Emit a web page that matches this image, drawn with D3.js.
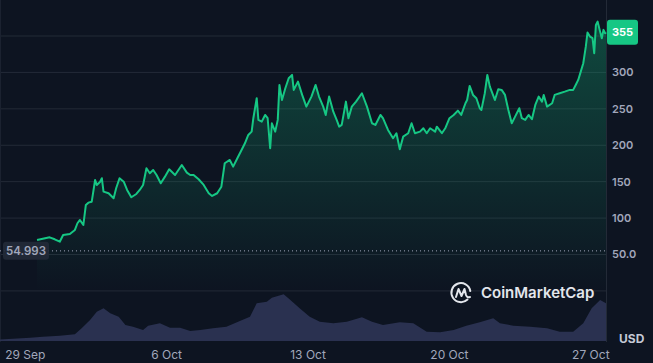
<!DOCTYPE html>
<meta charset="utf-8">
<head>
<script src="https://d3js.org/d3.v7.min.js"></script>
<style>
body { margin: 0; background: #0d1421; }
text { font-family: Inter, "Noto Sans", sans-serif; }
</style>
</head>
<body>
<div id="chart"></div>
<script>
// hours since 27 Sep 18:00, price in USD
var priceHours = [44, 59, 65, 71, 75, 83, 89, 92, 95, 99, 102, 105, 109, 113, 115, 119, 121, 123, 129, 135,
  138, 142, 147, 151, 156, 162, 166, 170, 174, 178, 182, 186, 191, 196, 201, 208, 216, 222, 226, 230,
  236, 242, 248, 252, 258, 263, 267, 273, 277, 282, 287, 291, 295, 299, 301, 305, 307, 311, 315, 318,
  321, 323, 327, 330, 332, 335, 339, 343, 347, 349, 354, 359, 364, 370, 375, 379, 384, 387, 391, 396,
  400, 403, 406, 411, 414, 418, 423, 430, 436, 442, 446, 452, 455, 461, 467, 471, 475, 479, 485, 489,
  493, 499, 503, 507, 511, 517, 519, 525, 529, 534, 539, 544, 548, 553, 555, 558, 562, 566, 570, 572,
  576, 579, 582, 588, 592, 596, 600, 604, 608, 612, 617, 620, 624, 628, 632, 636, 640, 644, 646, 650,
  656, 659, 665, 671, 677, 681, 684, 687, 690, 693, 696, 698, 701, 704, 706, 708, 710, 713, 715, 717,
  719, 720];
var prices = [69.9, 73.6, 70.9, 67.6, 76.8, 78.2, 83.7, 92.9, 97.4, 90.5, 118.0, 121.2, 122.5, 152.3, 145.5, 150.0, 154.7, 136.3, 134.1, 127.2,
  140.9, 154.7, 150.0, 138.6, 128.6, 133.1, 138.6, 145.5, 168.4, 161.5, 166.1, 159.2, 147.8, 156.9, 167.0, 159.2, 172.9, 162.4, 159.2, 159.2,
  153.3, 145.5, 134.1, 130.4, 134.1, 143.1, 175.3, 179.8, 170.6, 182.1, 193.5, 202.7, 214.1, 218.7, 237.1, 264.6, 234.8, 232.4, 241.6, 237.1,
  195.9, 230.2, 218.7, 234.8, 282.8, 262.2, 278.3, 292.0, 296.6, 276.0, 287.4, 269.1, 253.0, 266.8, 282.8, 266.8, 253.0, 241.6, 266.8, 246.1,
  234.8, 225.5, 227.9, 259.9, 237.1, 253.0, 259.9, 271.4, 253.0, 230.2, 227.9, 241.6, 237.1, 221.0, 209.6, 216.5, 194.5, 211.8, 216.5, 230.2,
  216.5, 218.7, 223.3, 216.5, 223.3, 218.7, 225.5, 216.5, 223.3, 237.1, 241.6, 247.5, 241.6, 257.7, 262.2, 281.4, 269.1, 264.6, 250.8, 248.5,
  271.4, 296.6, 280.5, 262.2, 276.9, 276.0, 269.1, 248.5, 230.2, 239.3, 250.8, 237.1, 234.8, 241.6, 235.7, 255.4, 266.8, 259.9, 269.1, 253.0,
  257.7, 269.1, 271.4, 273.6, 276.0, 276.0, 282.8, 289.7, 301.1, 312.6, 335.4, 354.7, 349.2, 347.0, 326.4, 365.2, 369.8, 356.0, 347.0, 358.4,
  353.8, 355.0];

// volume (relative units) at hours since 27 Sep 18:00
var volumeHours = [0, 36, 51, 71, 89, 97, 107, 115, 123, 131, 141, 149, 158, 170, 176, 190, 202, 214, 226, 238,
  253, 269, 285, 297, 305, 317, 323, 337, 345, 356, 368, 380, 396, 412, 430, 442, 455, 475, 491, 507,
  523, 539, 554, 570, 586, 594, 610, 630, 650, 665, 681, 693, 703, 713, 720];
var volumes = [1.5, 3.3, 4.3, 5.3, 6.7, 12.7, 21, 29.3, 32.7, 27.7, 24.3, 16, 14.3, 11, 15.3, 17.7, 13.3, 13.3, 10, 11,
  12.7, 14.3, 20, 24.3, 37.7, 39.3, 43.3, 46.7, 41, 32.7, 24.3, 19.3, 17.7, 19.3, 23.7, 19.3, 16, 18.7, 17.7, 9.3,
  8.7, 11, 15.3, 18.7, 22.7, 17.7, 15.3, 14.3, 12.7, 9.3, 9.3, 17.7, 32.7, 41, 37.7];

var yTicks = [50, 100, 150, 200, 250, 300, 350];
var xTickDates = ["2024-09-29", "2024-10-06", "2024-10-13", "2024-10-20", "2024-10-27"];
var openPrice = 54.993;
var lastPrice = 355;

var W = 653, H = 363;
var start = new Date(2024, 8, 27, 18);
var hourMs = 3600 * 1000;
var toDate = function(h) { return new Date(start.getTime() + h * hourMs); };

var x = d3.scaleTime()
  .domain([start, toDate(720)])
  .range([0, 606]);
var y = d3.scaleLinear()
  .domain([50, 350])
  .range([254.5, 36]);
var yVol = d3.scaleLinear()
  .domain([0, 47])
  .range([341, 294]);

var priceData = priceHours.map(function(h, i) { return { date: toDate(h), value: prices[i] }; });
var volData = volumeHours.map(function(h, i) { return { date: toDate(h), value: volumes[i] }; });

var svg = d3.select("#chart").append("svg")
  .attr("width", W)
  .attr("height", H)
  .style("background", "#0d1421");

var defs = svg.append("defs");
var grad = defs.append("linearGradient")
  .attr("id", "areaGrad")
  .attr("gradientUnits", "userSpaceOnUse")
  .attr("x1", 0).attr("x2", 0)
  .attr("y1", 20).attr("y2", y(0));
grad.append("stop").attr("offset", 0).attr("stop-color", "#16c784").attr("stop-opacity", 0.3);
grad.append("stop").attr("offset", 1).attr("stop-color", "#16c784").attr("stop-opacity", 0);

// grid lines
svg.append("g")
  .selectAll("line")
  .data(yTicks.concat([0]))
  .enter().append("line")
    .attr("x1", 0).attr("x2", 606)
    .attr("y1", function(d) { return y(d); })
    .attr("y2", function(d) { return y(d); })
    .attr("stroke", "#232a37")
    .attr("stroke-width", 1);

// frame lines
svg.append("line").attr("x1", 606.5).attr("x2", 606.5).attr("y1", 0).attr("y2", 342)
  .attr("stroke", "#232a37");
svg.append("line").attr("x1", 0.5).attr("x2", 0.5).attr("y1", 0).attr("y2", 342)
  .attr("stroke", "#1b2230");

// volume
svg.append("path")
  .datum(volData)
  .attr("fill", "#2a3150")
  .attr("d", d3.area()
    .x(function(d) { return x(d.date); })
    .y0(yVol(0))
    .y1(function(d) { return yVol(d.value); }));

// price area + line
svg.append("path")
  .datum(priceData)
  .attr("fill", "url(#areaGrad)")
  .attr("d", d3.area()
    .x(function(d) { return x(d.date); })
    .y0(y(0))
    .y1(function(d) { return y(d.value); }));

svg.append("path")
  .datum(priceData)
  .attr("fill", "none")
  .attr("stroke", "#16c784")
  .attr("stroke-width", 2)
  .attr("stroke-linejoin", "round")
  .attr("d", d3.line()
    .x(function(d) { return x(d.date); })
    .y(function(d) { return y(d.value); }));

// opening price dotted line
svg.append("line")
  .attr("x1", 0).attr("x2", 606)
  .attr("y1", y(openPrice)).attr("y2", y(openPrice))
  .attr("stroke", "#a1a7bb")
  .attr("stroke-width", 1)
  .attr("stroke-dasharray", "1,3");
svg.append("rect")
  .attr("x", 3).attr("y", y(openPrice) - 9)
  .attr("width", 46).attr("height", 18).attr("rx", 3)
  .attr("fill", "#222a38").attr("opacity", 0.9);
svg.append("text")
  .attr("x", 26).attr("y", y(openPrice))
  .attr("dy", "0.35em")
  .attr("text-anchor", "middle")
  .attr("font-size", 11.5)
  .attr("font-weight", 600)
  .attr("fill", "#a1a7bb")
  .text(openPrice);

// y axis labels (the 350 label sits under the last-price badge)
svg.append("g")
  .selectAll("text")
  .data(yTicks.filter(function(d) { return Math.abs(y(d) - y(lastPrice)) > 12; }))
  .enter().append("text")
    .attr("x", 612)
    .attr("y", function(d) { return y(d); })
    .attr("dy", "0.35em")
    .attr("font-size", 11)
    .attr("font-weight", 600)
    .attr("fill", "#a1a7bb")
    .text(function(d) { return d === 50 ? "50.0" : d; });

// last price badge
svg.append("rect")
  .attr("x", 607).attr("y", y(lastPrice) - 12.5)
  .attr("width", 31).attr("height", 25).attr("rx", 3)
  .attr("fill", "#16c784");
svg.append("text")
  .attr("x", 622.5).attr("y", y(lastPrice))
  .attr("dy", "0.35em")
  .attr("text-anchor", "middle")
  .attr("font-size", 11)
  .attr("font-weight", 700)
  .attr("fill", "#ffffff")
  .text(lastPrice);

// x axis labels
var fmt = d3.timeFormat("%-d %b");
svg.append("g")
  .selectAll("text")
  .data(xTickDates.map(function(s) { return d3.timeParse("%Y-%m-%d")(s); }))
  .enter().append("text")
    .attr("x", function(d) { return x(d); })
    .attr("y", 355)
    .attr("dy", "0.35em")
    .attr("text-anchor", "middle")
    .attr("font-size", 12)
    .attr("fill", "#a1a7bb")
    .text(function(d) { return fmt(d); });

svg.append("text")
  .attr("x", 619).attr("y", 339)
  .attr("dy", "0.35em")
  .attr("font-size", 12)
  .attr("font-weight", 700)
  .attr("fill", "#c3c9d6")
  .text("USD");

// watermark
var logo = svg.append("g").attr("transform", "translate(461,293)")
  .attr("fill", "none").attr("stroke", "#e3e6ec").attr("stroke-width", 2)
  .attr("stroke-linecap", "round").attr("stroke-linejoin", "round");
logo.append("path")
  .attr("d", "M 6.5 6.5 A 9.5 9.5 0 1 1 9.3 -2");
logo.append("path")
  .attr("d", "M -5 4 L -2.5 -4 L 0.5 3 L 3.5 -4 L 5 2 Q 6 5 9 4");
svg.append("text")
  .attr("x", 481).attr("y", 293)
  .attr("dy", "0.35em")
  .attr("font-size", 15)
  .attr("font-weight", 600)
  .attr("fill", "#e3e6ec")
  .text("CoinMarketCap");
</script>
</body>
